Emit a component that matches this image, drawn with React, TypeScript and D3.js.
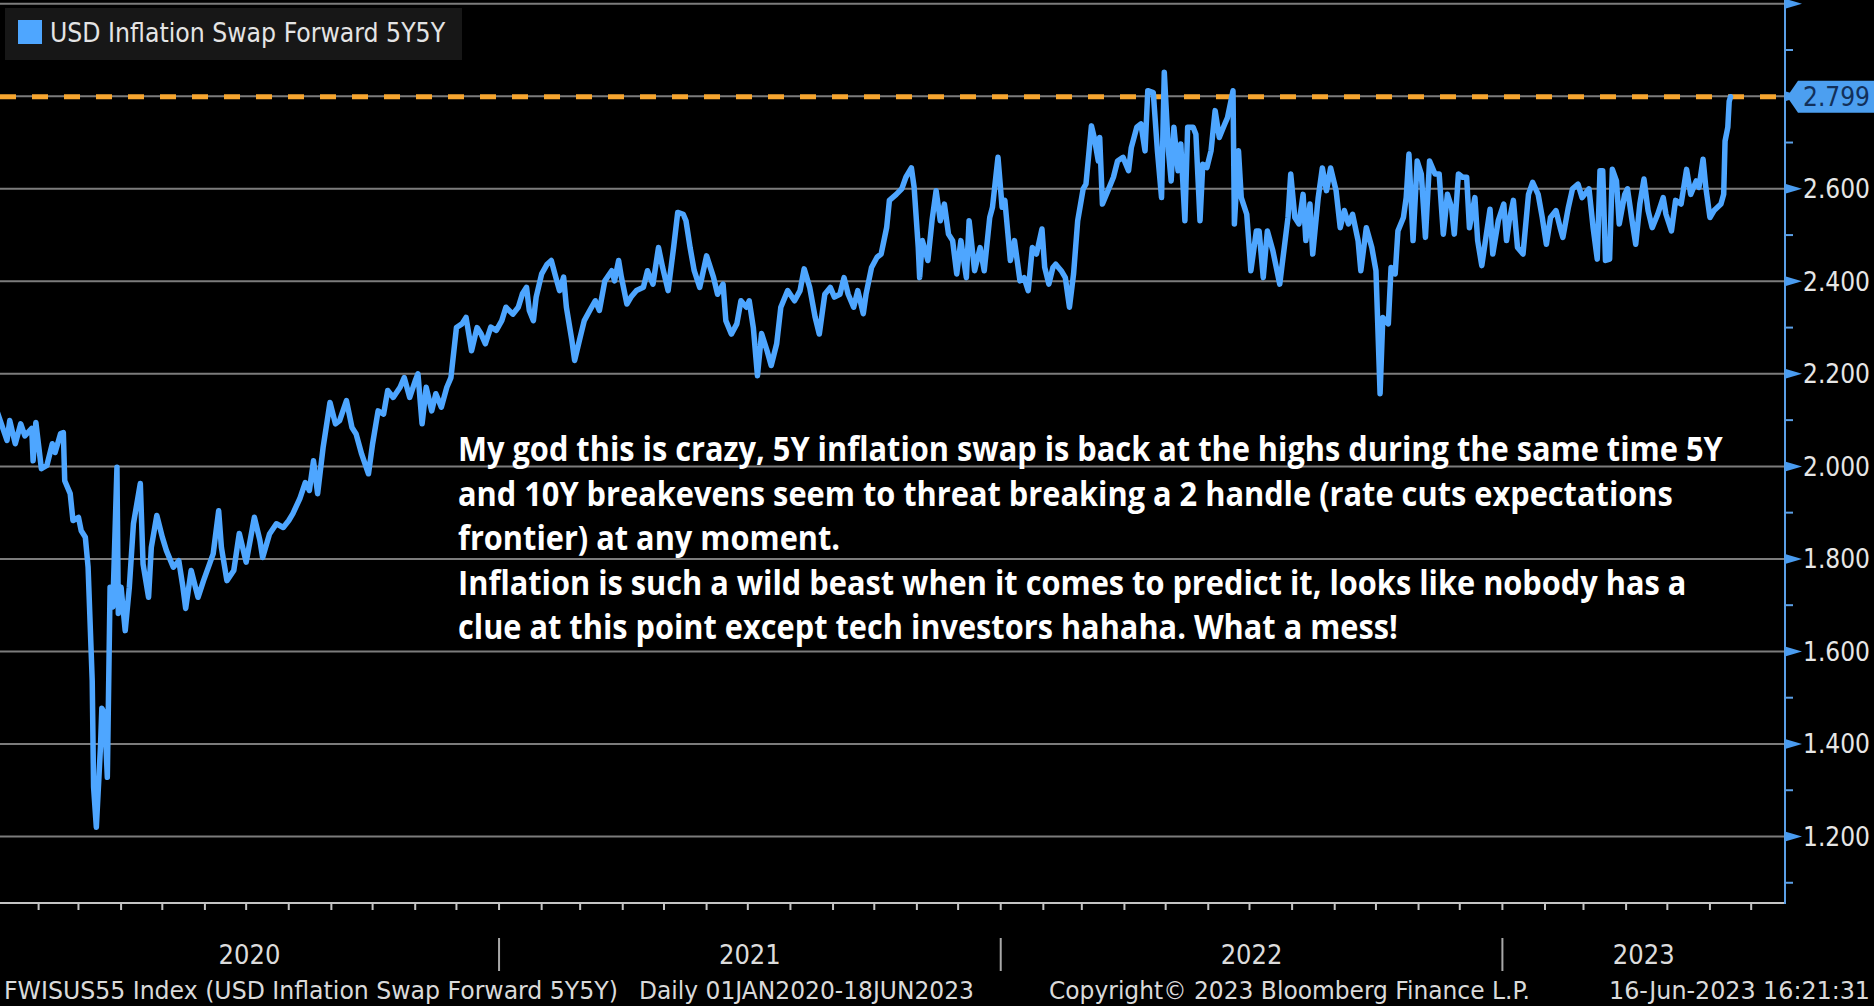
import { useLayoutEffect, useRef } from "react";
import * as d3 from "d3";

const WIDTH = 1874;
const HEIGHT = 1006;

const seriesName = "USD Inflation Swap Forward 5Y5Y";
const lastValue = 2.799;

// daily closes, sampled at the turning points of the line ("MM-DD", level)
const swap2020: [string, number][] = [
  ["01-02", 2.117], ["01-09", 2.056], ["01-11", 2.099], ["01-15", 2.049], ["01-19", 2.092], ["01-22", 2.066],
  ["01-27", 2.082], ["01-28", 2.012], ["01-30", 2.095], ["02-03", 1.995], ["02-07", 2.002], ["02-11", 2.049],
  ["02-13", 2.03], ["02-17", 2.071], ["02-19", 2.073], ["02-20", 1.969], ["02-24", 1.941], ["02-26", 1.883],
  ["03-01", 1.89], ["03-03", 1.861], ["03-06", 1.847], ["03-08", 1.782], ["03-11", 1.537], ["03-12", 1.307],
  ["03-14", 1.22], ["03-17", 1.393], ["03-18", 1.477], ["03-20", 1.466], ["03-22", 1.328], ["03-24", 1.739],
  ["03-26", 1.696], ["03-29", 1.998], ["03-30", 1.682], ["04-01", 1.739], ["04-04", 1.645], ["04-07", 1.739],
  ["04-10", 1.876], ["04-15", 1.963], ["04-17", 1.789], ["04-21", 1.717], ["04-23", 1.825], ["04-27", 1.894],
  ["05-01", 1.847], ["05-04", 1.818], ["05-09", 1.782], ["05-13", 1.796], ["05-16", 1.739], ["05-18", 1.693],
  ["05-22", 1.775], ["05-27", 1.717], ["05-31", 1.753], ["06-07", 1.811], ["06-11", 1.904], ["06-13", 1.825],
  ["06-17", 1.753], ["06-22", 1.775], ["06-26", 1.855], ["07-01", 1.793], ["07-07", 1.89], ["07-11", 1.84],
  ["07-13", 1.803], ["07-18", 1.854], ["07-23", 1.876], ["07-28", 1.868], ["08-01", 1.883], ["08-04", 1.898],
  ["08-09", 1.93], ["08-13", 1.965], ["08-16", 1.948], ["08-19", 2.012], ["08-22", 1.941], ["08-26", 2.041],
  ["08-31", 2.138], ["09-04", 2.092], ["09-07", 2.099], ["09-12", 2.142], ["09-16", 2.084], ["09-19", 2.07],
  ["09-23", 2.027], ["09-28", 1.984], ["10-01", 2.049], ["10-05", 2.12], ["10-09", 2.113], ["10-12", 2.164],
  ["10-16", 2.149], ["10-21", 2.171], ["10-24", 2.192], ["10-28", 2.149], ["11-01", 2.185], ["11-03", 2.2],
  ["11-06", 2.092], ["11-09", 2.171], ["11-13", 2.12], ["11-16", 2.157], ["11-20", 2.128], ["11-24", 2.171],
  ["11-27", 2.192], ["12-01", 2.3], ["12-05", 2.308], ["12-08", 2.322], ["12-12", 2.25], ["12-16", 2.3],
  ["12-19", 2.286], ["12-22", 2.265], ["12-26", 2.301], ["12-30", 2.294],
];

const swap2021: [string, number][] = [
  ["01-03", 2.315], ["01-06", 2.344], ["01-11", 2.329], ["01-15", 2.344], ["01-18", 2.373], ["01-21", 2.387],
  ["01-23", 2.337], ["01-26", 2.315], ["01-28", 2.366], ["02-01", 2.416], ["02-05", 2.437], ["02-08", 2.445],
  ["02-12", 2.401], ["02-14", 2.38], ["02-17", 2.409], ["02-19", 2.344], ["02-23", 2.272], ["02-25", 2.229],
  ["03-01", 2.279], ["03-04", 2.315], ["03-08", 2.337], ["03-12", 2.358], ["03-15", 2.337], ["03-19", 2.401],
  ["03-24", 2.423], ["03-26", 2.401], ["03-29", 2.445], ["03-31", 2.409], ["04-04", 2.351], ["04-07", 2.366],
  ["04-11", 2.38], ["04-16", 2.387], ["04-19", 2.423], ["04-23", 2.394], ["04-27", 2.473], ["04-30", 2.43],
  ["05-04", 2.38], ["05-08", 2.473], ["05-11", 2.549], ["05-15", 2.545], ["05-17", 2.531], ["05-20", 2.473],
  ["05-23", 2.423], ["05-27", 2.387], ["06-01", 2.455], ["06-06", 2.409], ["06-09", 2.372], ["06-13", 2.394],
  ["06-15", 2.315], ["06-19", 2.286], ["06-23", 2.308], ["06-26", 2.358], ["06-30", 2.344], ["07-02", 2.358],
  ["07-05", 2.3], ["07-08", 2.196], ["07-11", 2.287], ["07-15", 2.25], ["07-18", 2.218], ["07-22", 2.265],
  ["07-25", 2.344], ["07-30", 2.38], ["08-04", 2.358], ["08-08", 2.38], ["08-11", 2.427], ["08-15", 2.387],
  ["08-19", 2.322], ["08-22", 2.286], ["08-26", 2.372], ["08-30", 2.387], ["09-02", 2.366], ["09-06", 2.372],
  ["09-09", 2.408], ["09-12", 2.372], ["09-16", 2.344], ["09-19", 2.38], ["09-23", 2.33], ["09-25", 2.372],
  ["09-29", 2.43], ["10-03", 2.452], ["10-06", 2.459], ["10-10", 2.516], ["10-12", 2.575], ["10-17", 2.588],
  ["10-21", 2.6], ["10-24", 2.625], ["10-28", 2.645], ["10-30", 2.603], ["11-02", 2.473], ["11-03", 2.408],
  ["11-05", 2.488], ["11-09", 2.445], ["11-12", 2.531], ["11-15", 2.596], ["11-18", 2.531], ["11-21", 2.567],
  ["11-24", 2.502], ["11-27", 2.488], ["11-30", 2.416], ["12-03", 2.488], ["12-07", 2.408], ["12-09", 2.531],
  ["12-13", 2.423], ["12-17", 2.473], ["12-20", 2.423], ["12-24", 2.538], ["12-26", 2.56], ["12-30", 2.668],
];

const swap2022: [string, number][] = [
  ["01-02", 2.56], ["01-04", 2.575], ["01-08", 2.445], ["01-11", 2.488], ["01-15", 2.401], ["01-18", 2.408],
  ["01-21", 2.38], ["01-24", 2.473], ["01-27", 2.459], ["01-31", 2.513], ["02-02", 2.43], ["02-05", 2.394],
  ["02-08", 2.43], ["02-10", 2.437], ["02-14", 2.423], ["02-17", 2.408], ["02-20", 2.344], ["02-23", 2.416],
  ["02-26", 2.531], ["03-02", 2.6], ["03-04", 2.61], ["03-08", 2.736], ["03-10", 2.711], ["03-13", 2.66],
  ["03-14", 2.711], ["03-16", 2.567], ["03-20", 2.596], ["03-24", 2.625], ["03-27", 2.66], ["03-31", 2.668],
  ["04-04", 2.639], ["04-06", 2.689], ["04-10", 2.733], ["04-13", 2.74], ["04-16", 2.682], ["04-18", 2.812],
  ["04-22", 2.808], ["04-25", 2.682], ["04-28", 2.581], ["04-30", 2.852], ["05-03", 2.682], ["05-05", 2.617],
  ["05-07", 2.733], ["05-10", 2.639], ["05-12", 2.697], ["05-15", 2.531], ["05-17", 2.733], ["05-21", 2.733],
  ["05-23", 2.718], ["05-26", 2.531], ["05-28", 2.653], ["05-31", 2.646], ["06-03", 2.682], ["06-06", 2.769],
  ["06-09", 2.711], ["06-13", 2.74], ["06-15", 2.754], ["06-19", 2.812], ["06-20", 2.524], ["06-23", 2.682],
  ["06-25", 2.581], ["06-29", 2.545], ["07-02", 2.423], ["07-06", 2.509], ["07-08", 2.509], ["07-11", 2.408],
  ["07-14", 2.509], ["07-18", 2.466], ["07-23", 2.394], ["07-26", 2.466], ["07-29", 2.538], ["07-31", 2.632],
  ["08-03", 2.538], ["08-06", 2.524], ["08-09", 2.588], ["08-11", 2.488], ["08-14", 2.567], ["08-16", 2.459],
  ["08-20", 2.581], ["08-23", 2.645], ["08-26", 2.596], ["08-29", 2.645], ["09-02", 2.596], ["09-05", 2.516],
  ["09-08", 2.553], ["09-11", 2.524], ["09-14", 2.545], ["09-18", 2.488], ["09-20", 2.423], ["09-24", 2.516],
  ["09-28", 2.473], ["10-01", 2.423], ["10-04", 2.157], ["10-06", 2.322], ["10-10", 2.308], ["10-12", 2.43],
  ["10-15", 2.416], ["10-17", 2.509], ["10-21", 2.538], ["10-23", 2.581], ["10-25", 2.675], ["10-28", 2.488],
  ["10-31", 2.66], ["11-03", 2.632], ["11-06", 2.495], ["11-09", 2.66], ["11-13", 2.632], ["11-16", 2.632],
  ["11-19", 2.502], ["11-22", 2.588], ["11-25", 2.56], ["11-27", 2.502], ["11-30", 2.632], ["12-03", 2.625],
  ["12-06", 2.625], ["12-08", 2.516], ["12-12", 2.581], ["12-14", 2.488], ["12-17", 2.434], ["12-20", 2.495],
  ["12-23", 2.556], ["12-25", 2.459], ["12-29", 2.531],
];

const swap2023: [string, number][] = [
  ["01-02", 2.567], ["01-04", 2.488], ["01-06", 2.531], ["01-09", 2.575], ["01-12", 2.473], ["01-16", 2.459],
  ["01-20", 2.588], ["01-23", 2.614], ["01-27", 2.588], ["01-30", 2.538], ["02-02", 2.48], ["02-05", 2.538],
  ["02-09", 2.553], ["02-12", 2.516], ["02-14", 2.495], ["02-18", 2.56], ["02-21", 2.6], ["02-25", 2.61],
  ["02-28", 2.581], ["03-05", 2.6], ["03-08", 2.516], ["03-11", 2.448], ["03-13", 2.639], ["03-15", 2.639],
  ["03-17", 2.445], ["03-20", 2.448], ["03-22", 2.642], ["03-25", 2.617], ["03-27", 2.524], ["03-31", 2.588],
  ["04-02", 2.6], ["04-05", 2.538], ["04-08", 2.48], ["04-11", 2.567], ["04-14", 2.621], ["04-17", 2.553],
  ["04-20", 2.516], ["04-24", 2.545], ["04-28", 2.581], ["04-30", 2.545], ["05-04", 2.509], ["05-07", 2.575],
  ["05-11", 2.567], ["05-15", 2.642], ["05-18", 2.588], ["05-22", 2.617], ["05-24", 2.603], ["05-27", 2.664],
  ["05-29", 2.603], ["06-01", 2.538], ["06-04", 2.553], ["06-09", 2.567], ["06-11", 2.588], ["06-12", 2.703],
  ["06-14", 2.733], ["06-15", 2.789], ["06-16", 2.799],
];

const majorTicks = [1.2, 1.4, 1.6, 1.8, 2.0, 2.2, 2.4, 2.6, 2.8, 3.0];
const labelledTicks = [1.2, 1.4, 1.6, 1.8, 2.0, 2.2, 2.4, 2.6];
const minorTicks = [1.1, 1.3, 1.5, 1.7, 1.9, 2.1, 2.3, 2.5, 2.7, 2.9];
const yearLabels = ["2020", "2021", "2022", "2023"];

const footerLeft = "FWISUS55 Index (USD Inflation Swap Forward 5Y5Y)";
const footerRange = "Daily 01JAN2020-18JUN2023";
const footerCopy = "Copyright\u00A9 2023 Bloomberg Finance L.P.";
const footerStamp = "16-Jun-2023 16:21:31";

const noteLines: [string, number][] = [
  ["My god this is crazy, 5Y inflation swap is back at the highs during the same time 5Y", 1265],
  ["and 10Y breakevens seem to threat breaking a 2 handle (rate cuts expectations", 1215],
  ["frontier) at any moment.", 382],
  ["Inflation is such a wild beast when it comes to predict it, looks like nobody has a", 1228],
  ["clue at this point except tech investors hahaha. What a mess!", 940],
];

type Point = { date: Date; value: number };

const parseDay = d3.timeParse("%Y-%m-%d");
const toPoints = (year: number, rows: [string, number][]): Point[] =>
  rows.map(([md, value]) => ({ date: parseDay(`${year}-${md}`)!, value }));

const series: Point[] = [
  ...toPoints(2020, swap2020),
  ...toPoints(2021, swap2021),
  ...toPoints(2022, swap2022),
  ...toPoints(2023, swap2023),
];

const BBG_FONT = "'DejaVu Sans Condensed', 'DejaVu Sans', sans-serif";
const LINE_BLUE = "#4ea6ff";
const AXIS_X = 1785;
const AXIS_BOTTOM = 903;

// text squeezed horizontally to a given width (the terminal font is narrower than ours)
interface FitTextProps extends React.SVGProps<SVGTextElement> {
  at: [number, number];
  fit: number;
  children: string;
}

const FitText = ({ at, fit, children, ...rest }: FitTextProps) => {
  const ref = useRef<SVGTextElement>(null);

  useLayoutEffect(() => {
    const apply = () => {
      const el = ref.current;
      if (!el) return;
      const natural = el.getComputedTextLength();
      const k = natural > 0 ? fit / natural : 1;
      el.setAttribute("transform", `translate(${at[0]},${at[1]}) scale(${k},1)`);
    };
    apply();
    document.fonts?.ready.then(apply);
  }, [at, fit, children]);

  return (
    <text ref={ref} transform={`translate(${at[0]},${at[1]})`} {...rest}>
      {children}
    </text>
  );
};

const App = () => {
  const x = d3
    .scaleTime()
    .domain([new Date(2020, 0, 1), new Date(2023, 0, 1)])
    .range([-4, 1502.4]);
  const y = d3.scaleLinear().domain([1.2, 2.6]).range([836.5, 188.8]);

  const line = d3
    .line<Point>()
    .x((d) => x(d.date))
    .y((d) => y(d.value));

  const fmt = d3.format(".3f");
  const months = d3.timeMonth.range(new Date(2020, 1, 1), x.invert(AXIS_X));
  const yearStarts = d3.timeYear.range(new Date(2021, 0, 1), x.invert(AXIS_X));
  const yearBounds = [0, ...yearStarts.map((d) => x(d)), AXIS_X];
  const yLast = y(lastValue);

  return (
    <svg
      width={WIDTH}
      height={HEIGHT}
      style={{ position: "absolute", left: 0, top: 0, display: "block" }}
    >
      <rect width={WIDTH} height={HEIGHT} fill="#000" />

      {/* horizontal grid */}
      {majorTicks.map((t) => (
        <line key={t} x1={0} x2={AXIS_X} y1={y(t)} y2={y(t)} stroke="#7c7c7c" strokeWidth={2} />
      ))}

      {/* last value marker */}
      <line
        x1={0}
        x2={AXIS_X}
        y1={yLast}
        y2={yLast}
        stroke="#f7a630"
        strokeWidth={5}
        strokeDasharray="16 16"
      />

      <path
        d={line(series) ?? ""}
        fill="none"
        stroke={LINE_BLUE}
        strokeWidth={5.5}
        strokeLinejoin="round"
        strokeLinecap="round"
      />

      {/* time axis */}
      <line x1={0} x2={AXIS_X} y1={AXIS_BOTTOM} y2={AXIS_BOTTOM} stroke="#c4c4c4" strokeWidth={2} />
      {months.map((m) => (
        <line
          key={m.getTime()}
          x1={x(m)}
          x2={x(m)}
          y1={AXIS_BOTTOM}
          y2={AXIS_BOTTOM + 7}
          stroke="#c4c4c4"
          strokeWidth={2}
        />
      ))}
      {yearStarts.map((d) => (
        <line key={d.getTime()} x1={x(d)} x2={x(d)} y1={938} y2={971} stroke="#a8a8a8" strokeWidth={2} />
      ))}
      {yearLabels.map((label, i) => (
        <text
          key={label}
          x={(yearBounds[i] + yearBounds[i + 1]) / 2}
          y={964}
          fill="#dcdcdc"
          fontFamily={BBG_FONT}
          fontSize={27}
          textAnchor="middle"
        >
          {label}
        </text>
      ))}

      {/* value axis */}
      <line x1={AXIS_X} x2={AXIS_X} y1={0} y2={AXIS_BOTTOM + 1} stroke="#5b9fe6" strokeWidth={2} />
      {minorTicks.map((t) => (
        <line key={t} x1={AXIS_X} x2={AXIS_X + 8} y1={y(t)} y2={y(t)} stroke="#5b9fe6" strokeWidth={2} />
      ))}
      {majorTicks.map((t) => (
        <polygon
          key={t}
          points={`${AXIS_X},${y(t) - 5} ${AXIS_X + 17},${y(t)} ${AXIS_X},${y(t) + 5}`}
          fill="#4a9cf0"
        />
      ))}
      {labelledTicks.map((t) => (
        <text
          key={t}
          x={1803}
          y={y(t) + 9.5}
          fill="#e6e6e6"
          fontFamily={BBG_FONT}
          fontSize={26}
        >
          {fmt(t)}
        </text>
      ))}

      {/* last value tag */}
      <path
        d={`M${AXIS_X + 2},${yLast} L${AXIS_X + 13},${yLast - 16} L${WIDTH},${yLast - 16} L${WIDTH},${yLast + 16} L${AXIS_X + 13},${yLast + 16} Z`}
        fill="#4c9ff0"
      />
      <text x={1803} y={yLast + 9.5} fill="#12305a" fontFamily={BBG_FONT} fontSize={26}>
        {fmt(lastValue)}
      </text>

      {/* legend */}
      <rect x={5} y={8} width={457} height={52} fill="#171717" />
      <rect x={18} y={20} width={24} height={24} fill={LINE_BLUE} />
      <FitText at={[50, 42]} fit={395} fill="#e4e4e4" fontFamily={BBG_FONT} fontSize={26}>
        {seriesName}
      </FitText>

      {/* note */}
      {noteLines.map(([text, len], i) => (
        <FitText
          key={i}
          at={[458, 461 + i * 44.5]}
          fit={len}
          fill="#ffffff"
          fontFamily="'Open Sans', sans-serif"
          fontWeight={700}
          fontSize={34}
        >
          {text}
        </FitText>
      ))}

      {/* footer */}
      <g fill="#dadada" fontFamily={BBG_FONT} fontSize={25}>
        <FitText at={[4, 999]} fit={614}>
          {footerLeft}
        </FitText>
        <FitText at={[639, 999]} fit={335}>
          {footerRange}
        </FitText>
        <FitText at={[1049, 999]} fit={481}>
          {footerCopy}
        </FitText>
        <FitText at={[1609, 999]} fit={261}>
          {footerStamp}
        </FitText>
      </g>
    </svg>
  );
};

export default App;
